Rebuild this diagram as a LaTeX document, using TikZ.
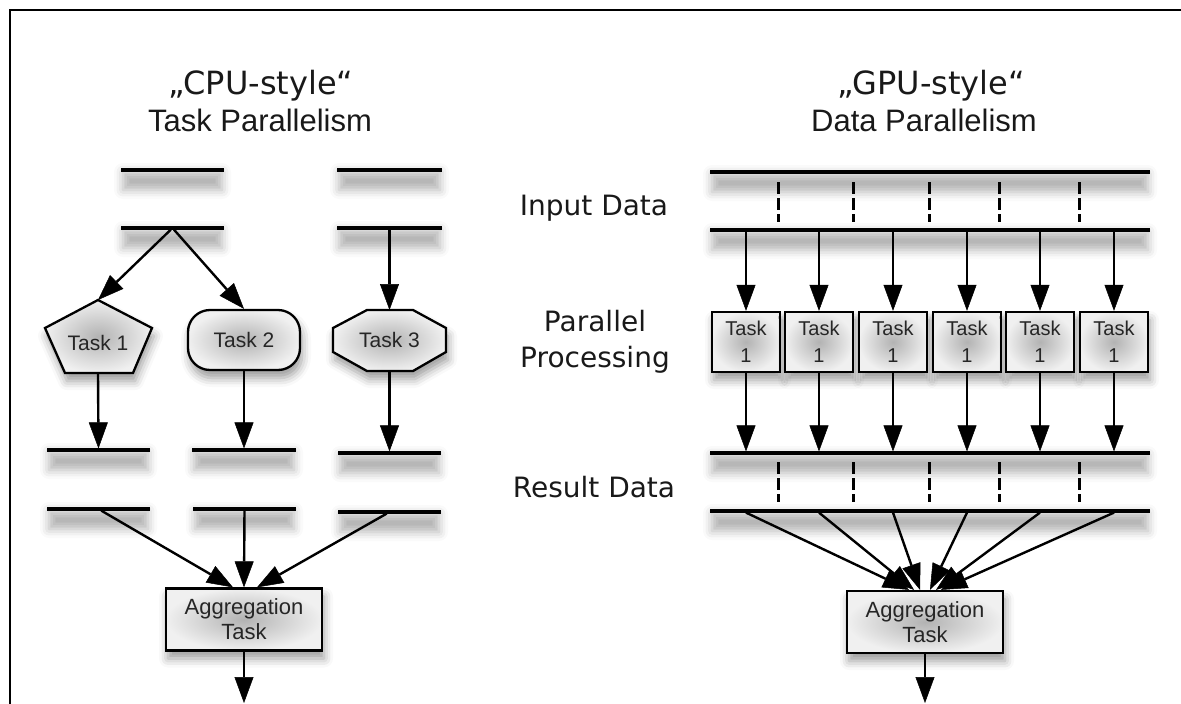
\documentclass[tikz,border=0pt]{standalone}
\usepackage{fontspec}
\setmainfont{Liberation Sans}
\newfontfamily\widefont{DejaVu Sans}
\usetikzlibrary{arrows.meta,shadows.blur}

% horizontal data bar: name, centre x, centre y, width
\newcommand\drawbar[4]{%
  \path[barshade] (#2-#4/2+2,#3+2) rectangle (#2+#4/2-2,#3+20);
  \node[databar, minimum width=#4pt] (#1) at (#2,#3) {};}

\tikzset{
  x=1pt, y=-1pt,
  databar/.style={rectangle, fill=black, inner sep=0pt, outer sep=0pt, minimum height=3.2pt},
  barshade/.style={blur shadow={shadow xshift=0pt, shadow yshift=0pt, shadow blur radius=9pt, shadow opacity=30}},
  flow/.style={draw=black, line width=2.4pt, -{Triangle[length=26pt,width=19pt,fill=black,line width=0.5pt]}},
  taskfill/.style={draw=black, line width=2.3pt, inner color=gray!60, outer color=gray!12,
    blur shadow={shadow xshift=2pt, shadow yshift=-8pt, shadow blur radius=9pt, shadow opacity=40}},
  tasktext/.style={font=\fontsize{21}{25}\selectfont, text=black!85},
  smallbox/.style={taskfill, rectangle, minimum width=68pt, minimum height=60pt, inner sep=0pt,
    align=center, font=\fontsize{20}{27}\selectfont, text=black!85},
  aggbox/.style={taskfill, rectangle, minimum width=156pt, minimum height=62pt, inner sep=0pt,
    align=center, font=\fontsize{22}{25}\selectfont, text=black!85},
  divider/.style={line width=3pt, dash pattern=on 12pt off 4pt},
  headline/.style={anchor=base, font=\widefont\fontsize{32}{36}\selectfont, text=black!90},
  subline/.style={anchor=base, font=\fontsize{31}{36}\selectfont, text=black!90},
  sidelabel/.style={font=\widefont\fontsize{28}{36}\selectfont, align=center, text=black!90},
}

\begin{document}
\begin{tikzpicture}
\useasboundingbox (0,0) rectangle (1181,704);

% frame
\draw[line width=2.5pt] (1181,10) -- (10,10) -- (10,704);

% titles
\node[headline] (cpuhead) at (261,94) {„CPU-style“};
\node[subline]  (cpusub)  at (260,131) {Task Parallelism};
\node[headline] (gpuhead) at (931,94) {„GPU-style“};
\node[subline]  (gpusub)  at (924,131) {Data Parallelism};

% ---------- task parallelism ----------
\drawbar{lt1}{172.5}{170}{103}
\drawbar{lt3}{389.5}{170}{105}
\drawbar{lb1}{172.5}{228}{103}
\drawbar{lb3}{389.5}{228}{105}

% task 1: pentagon
\draw[taskfill] (98,300) -- (152,328) -- (133,373) -- (65,373) -- (45,328) -- cycle;
\node[tasktext] (t1) at (98,343) {Task 1};
\coordinate (t1top) at (98,300);
\coordinate (t1bot) at (98,373);

% task 2: rounded box
\node[taskfill, rectangle, rounded corners=22pt, minimum width=112pt, minimum height=60pt,
      inner sep=0pt, tasktext] (t2) at (244,340) {Task 2};

% task 3: octagon
\draw[taskfill] (367,310) -- (413,310) -- (446,328) -- (446,352) -- (413,371)
  -- (367,371) -- (333,352) -- (333,328) -- cycle;
\node[tasktext] (t3) at (389.5,340) {Task 3};
\coordinate (t3top) at (389.5,310);
\coordinate (t3bot) at (389.5,371);

\drawbar{lr1}{98.5}{450}{103}
\drawbar{lr2}{244}{450}{104}
\drawbar{lr3}{389.5}{453}{103}
\drawbar{lo1}{98.5}{509}{103}
\drawbar{lo2}{244.5}{509}{103}
\drawbar{lo3}{389.5}{512}{103}

\node[aggbox] (agg1) at (244,619.5) {Aggregation\\Task};
\coordinate (out1) at (244,703);

\draw[flow] (lb1) -- (t1top);
\draw[flow] (lb1) -- (t2.north);
\draw[flow] (lb3) -- (t3top);
\draw[flow] (t1bot) -- (lr1);
\draw[flow] (t2) -- (lr2);
\draw[flow] (t3bot) -- (lr3);
\draw[flow] (lo1) -- ([xshift=-11pt]agg1.north);
\draw[flow] (lo2) -- (agg1.north);
\draw[flow] (lo3) -- ([xshift=13pt]agg1.north);
\draw[flow] (agg1) -- (out1);

% ---------- data parallelism ----------
\node[sidelabel] (inlabel)  at (594,208) {Input Data};
\node[sidelabel] (pplabel)  at (595,342) {Parallel\\Processing};
\node[sidelabel] (reslabel) at (594,487) {Result Data};

\drawbar{rb1}{930}{172}{440}
\drawbar{rb2}{930}{230}{440}
\drawbar{rr1}{930}{453}{440}
\drawbar{rr2}{930}{511}{440}

\foreach \x in {778,853,929,999,1079} {
  \draw[divider] (\x,182) -- (\x,222);
  \draw[divider] (\x,462) -- (\x,502);
}

\foreach \i/\x in {1/746,2/819,3/893,4/967,5/1040,6/1114}
  \node[smallbox] (rt\i) at (\x,342) {Task\\1};

\node[aggbox] (agg2) at (925,622) {Aggregation\\Task};
\coordinate (out2) at (925,703);

\foreach \i in {1,...,6} {
  \draw[flow] (rb2.south -| rt\i) -- (rt\i);
  \draw[flow] (rt\i) -- (rr1.north -| rt\i);
}
\foreach \i/\s in {1/-16,2/-11,3/-5,4/5,5/11,6/16}
  \draw[flow] (rr2.south -| rt\i) -- ([xshift=\s pt]agg2.north);
\draw[flow] (agg2) -- (out2);
\end{tikzpicture}
\end{document}
